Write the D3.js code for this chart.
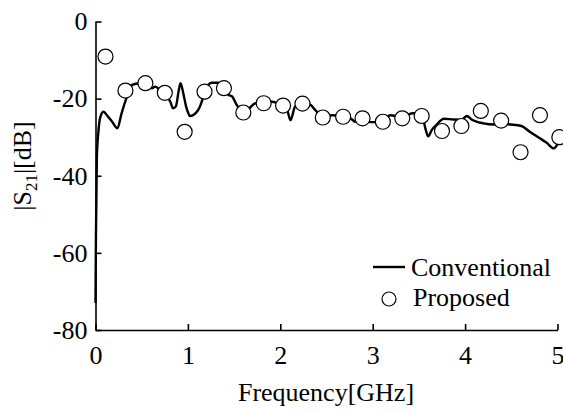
<!DOCTYPE html>
<html>
<head>
<meta charset="utf-8">
<script src="https://cdn.jsdelivr.net/npm/d3@7"></script>
<style>
  body { margin: 0; background: #fff; }
  svg text { font-family: "Liberation Serif", "Times New Roman", serif; fill: #000; }
</style>
</head>
<body>
<svg id="chart" width="563" height="412"></svg>
<script>
// conventional line
const convFreq = [0.000, 0.005, 0.015, 0.030, 0.050, 0.086, 0.13, 0.18, 0.238, 0.28, 0.33, 0.39, 0.48, 0.57, 0.61, 0.645,
  0.70, 0.75, 0.81, 0.84, 0.87, 0.90, 0.92, 0.95, 0.98, 1.005, 1.02, 1.11, 1.15, 1.18, 1.26, 1.33, 1.39, 1.44, 1.48,
  1.53, 1.60, 1.66, 1.73, 1.82, 1.91, 1.98, 2.03, 2.08, 2.11, 2.16, 2.24, 2.32, 2.38, 2.46, 2.56, 2.67, 2.76, 2.81,
  2.88, 2.97, 3.03, 3.11, 3.19, 3.32, 3.43, 3.53, 3.57, 3.60, 3.64, 3.69, 3.77, 3.87, 3.96, 4.02, 4.07, 4.20, 4.31,
  4.39, 4.49, 4.61, 4.70, 4.81, 4.88, 4.96, 5.00];
const convS21 = [-73, -55, -35, -29, -25, -23.4, -24.5, -26, -27.7, -24, -20.2, -16.5, -16.0, -16.5, -17.3, -16.9,
  -17.8, -18.7, -20.8, -22.5, -22.0, -18, -16.0, -18.6, -22, -23.8, -24.5, -23.0, -20.8, -18.2, -15.9, -15.9, -17.3, -19.0, -19.5,
  -21.7, -23.6, -22.6, -21.2, -21.0, -20.8, -21.3, -21.8, -23.4, -25.6, -22.1, -21.2, -21.5, -23.0, -24.9, -24.3, -24.6, -25.1, -26.0,
  -25.1, -26.1, -26.1, -25.8, -24.3, -24.8, -23.8, -24.0, -27.7, -29.8, -28.1, -26.8, -25.2, -25.4, -25.5, -24.5, -25.4, -26.4, -26.7,
  -26.5, -26.7, -27.1, -28.6, -30.3, -31.4, -32.9, -31.8];

// proposed (measured points)
const propFreq = [0.108, 0.324, 0.54, 0.75, 0.965, 1.18, 1.39, 1.60, 1.82, 2.03, 2.24, 2.46,
  2.68, 2.89, 3.11, 3.32, 3.53, 3.75, 3.96, 4.17, 4.39, 4.60, 4.81, 5.02];
const propS21 = [-9.1, -17.9, -16.0, -18.5, -28.6, -18.2, -17.3, -23.6, -21.2, -21.8, -21.3, -24.9,
  -24.7, -25.1, -26.0, -25.1, -24.5, -28.4, -27.1, -23.2, -25.7, -33.9, -24.3, -30.0];

const xTicks = [0, 1, 2, 3, 4, 5];
const yTicks = [0, -20, -40, -60, -80];

const svg = d3.select("#chart");

const x = d3.scaleLinear().domain([0, 5]).range([95.5, 557.5]);
const y = d3.scaleLinear().domain([-80, 0]).range([330, 21.5]);

const conv = convFreq.map((f, i) => ({ f: f, v: convS21[i] }));
const prop = propFreq.map((f, i) => ({ f: f, v: propS21[i] }));

// axes (ticks pointing inward), plain hyphen for negatives
const xAxis = svg.append("g")
  .attr("transform", "translate(0,330)")
  .call(d3.axisBottom(x).tickValues(xTicks).tickSizeInner(-6).tickSizeOuter(0).tickPadding(12).tickFormat(d => String(d)));

const yAxis = svg.append("g")
  .attr("transform", "translate(95.5,0)")
  .call(d3.axisLeft(y).tickValues(yTicks).tickSizeInner(-6).tickSizeOuter(0).tickPadding(8).tickFormat(d => String(d)));

[xAxis, yAxis].forEach(a => {
  a.select(".domain").attr("stroke", "#000").attr("stroke-width", 1.6);
  a.selectAll(".tick line").attr("stroke", "#000").attr("stroke-width", 1.6);
  a.selectAll(".tick text").attr("font-size", "26px").attr("fill", "#000");
});
xAxis.selectAll(".tick text").attr("dy", "0.85em");

// conventional line
const line = d3.line().x(d => x(d.f)).y(d => y(d.v)).curve(d3.curveMonotoneX);
svg.append("path")
  .datum(conv)
  .attr("fill", "none")
  .attr("stroke", "#000")
  .attr("stroke-width", 2.4)
  .attr("stroke-linejoin", "round")
  .attr("d", line);

// proposed circles
svg.selectAll("circle.prop")
  .data(prop)
  .join("circle")
  .attr("class", "prop")
  .attr("cx", d => x(d.f))
  .attr("cy", d => y(d.v))
  .attr("r", 7.5)
  .attr("fill", "#fff")
  .attr("stroke", "#000")
  .attr("stroke-width", 1.2);

// legend
const legend = svg.append("g");
legend.append("line")
  .attr("x1", 373).attr("x2", 405)
  .attr("y1", 267).attr("y2", 267)
  .attr("stroke", "#000").attr("stroke-width", 2.4);
legend.append("text")
  .attr("x", 411).attr("y", 276)
  .attr("font-size", "26px")
  .text("Conventional");
legend.append("circle")
  .attr("cx", 389).attr("cy", 299).attr("r", 7)
  .attr("fill", "#fff").attr("stroke", "#000").attr("stroke-width", 1.2);
legend.append("text")
  .attr("x", 413).attr("y", 306)
  .attr("font-size", "26px")
  .text("Proposed");

// axis titles
svg.append("text")
  .attr("x", 326).attr("y", 401)
  .attr("text-anchor", "middle")
  .attr("font-size", "26px")
  .text("Frequency[GHz]");

const yt = svg.append("text")
  .attr("transform", "translate(31,166) rotate(-90)")
  .attr("text-anchor", "middle")
  .attr("font-size", "26px");
yt.append("tspan").text("|S");
yt.append("tspan").attr("font-size", "17px").attr("dy", 6).text("21");
yt.append("tspan").attr("dy", -6).text("|[dB]");
</script>
</body>
</html>
